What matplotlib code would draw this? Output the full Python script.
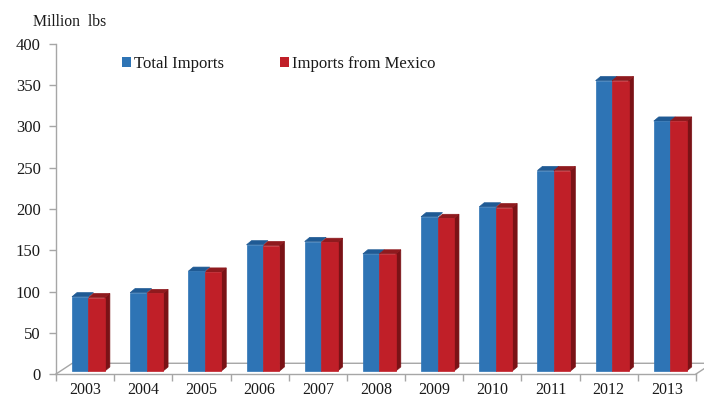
import matplotlib
matplotlib.use("Agg")
import matplotlib.pyplot as plt
from matplotlib.patches import Patch, Polygon

YEARS = ["2003", "2004", "2005", "2006", "2007", "2008", "2009", "2010", "2011", "2012", "2013"]
TOTAL_IMPORTS = [90, 95, 121, 153, 157, 142, 187, 199, 243, 352, 303]
IMPORTS_MEXICO = [89, 94, 120, 152, 156, 142, 185, 198, 243, 352, 303]
Y_TICKS = [0, 50, 100, 150, 200, 250, 300, 350, 400]

W, H = 704, 398
AX_LEFT, AX_RIGHT, AX_TOP, AX_BOTTOM = 56, 696, 44, 374

# 3d look, in data units
BAR_W = 0.283
BAR_START = 0.275
BASE = 3.6
DX = 0.085
DY = 5.0
FLOOR_DX = 0.28
FLOOR_DY = 13.0

BLUE, BLUE_TOP = "#2e74b5", "#1f5a94"
RED, RED_TOP, RED_SIDE = "#c01f28", "#8f1a1e", "#7a1216"
GREY = "#a6a6a6"


def draw_bar(ax, x, value, front, top, side):
    y = BASE + value
    if side:
        ax.add_patch(Polygon([(x + BAR_W, BASE), (x + BAR_W + DX, BASE + DY),
                              (x + BAR_W + DX, y + DY), (x + BAR_W, y)],
                             facecolor=side, edgecolor=side, lw=0.5, zorder=2.5))
    ax.add_patch(Polygon([(x, y), (x + BAR_W, y), (x + BAR_W + DX, y + DY), (x + DX, y + DY)],
                         facecolor=top, edgecolor=top, lw=0.5, zorder=2.5))
    ax.bar(x, value, BAR_W, bottom=BASE, align="edge", color=front, edgecolor=front, linewidth=0.5, zorder=3)


def main():
    fig = plt.figure(figsize=(W / 100, H / 100), dpi=100)
    ax = fig.add_axes([AX_LEFT / W, 1 - AX_BOTTOM / H, (AX_RIGHT - AX_LEFT) / W, (AX_BOTTOM - AX_TOP) / H])
    ax.set_xlim(0, len(YEARS))
    ax.set_ylim(0, 400)
    ax.patch.set_visible(False)

    for spine in ("top", "right"):
        ax.spines[spine].set_visible(False)
    for spine in ("left", "bottom"):
        ax.spines[spine].set_color(GREY)
        ax.spines[spine].set_linewidth(1)

    # floor
    n = len(YEARS)
    ax.plot([0, FLOOR_DX, n + FLOOR_DX], [0, FLOOR_DY, FLOOR_DY], color=GREY, lw=1, clip_on=False, zorder=1)
    ax.plot([n, n + FLOOR_DX], [0, FLOOR_DY], color=GREY, lw=1, clip_on=False, zorder=1)

    for i in range(n):
        draw_bar(ax, i + BAR_START, TOTAL_IMPORTS[i], BLUE, BLUE_TOP, None)
        draw_bar(ax, i + BAR_START + BAR_W, IMPORTS_MEXICO[i], RED, RED_TOP, RED_SIDE)

    ax.set_xticks(range(n + 1))
    ax.set_xticklabels([])
    ax.set_xticks([i + 0.5 for i in range(n)], YEARS, minor=True)
    ax.set_yticks(Y_TICKS)
    ax.tick_params(axis="x", which="major", direction="out", length=5, color=GREY, width=1)
    ax.tick_params(axis="x", which="minor", length=0, pad=6, labelsize=11.5, labelcolor="#1a1a1a")
    ax.tick_params(axis="y", direction="out", length=5, color=GREY, width=1, pad=6,
                   labelsize=12, labelcolor="#1a1a1a")
    for lab in ax.get_xticklabels(minor=True) + ax.get_yticklabels():
        lab.set_family("Liberation Serif")

    fig.text(33 / W, 1 - 22 / H, "Million  lbs", fontsize=11.3, family="Liberation Serif",
             color="#1a1a1a", ha="left", va="center")

    handles = [Patch(facecolor=BLUE, lw=0, label="Total Imports"),
               Patch(facecolor=RED, lw=0, label="Imports from Mexico")]
    ax.legend(handles=handles, ncol=2, frameon=False, loc="center left",
              bbox_to_anchor=((122 - AX_LEFT) / (AX_RIGHT - AX_LEFT), (AX_BOTTOM - 64) / (AX_BOTTOM - AX_TOP)),
              prop={"family": "Liberation Serif", "size": 12}, handlelength=0.55, handleheight=0.55,
              handletextpad=0.2, columnspacing=3.3, borderpad=0, borderaxespad=0, labelcolor="#1a1a1a")

    fig.savefig("out.png", dpi=100)
    plt.close(fig)


if __name__ == "__main__":
    main()
